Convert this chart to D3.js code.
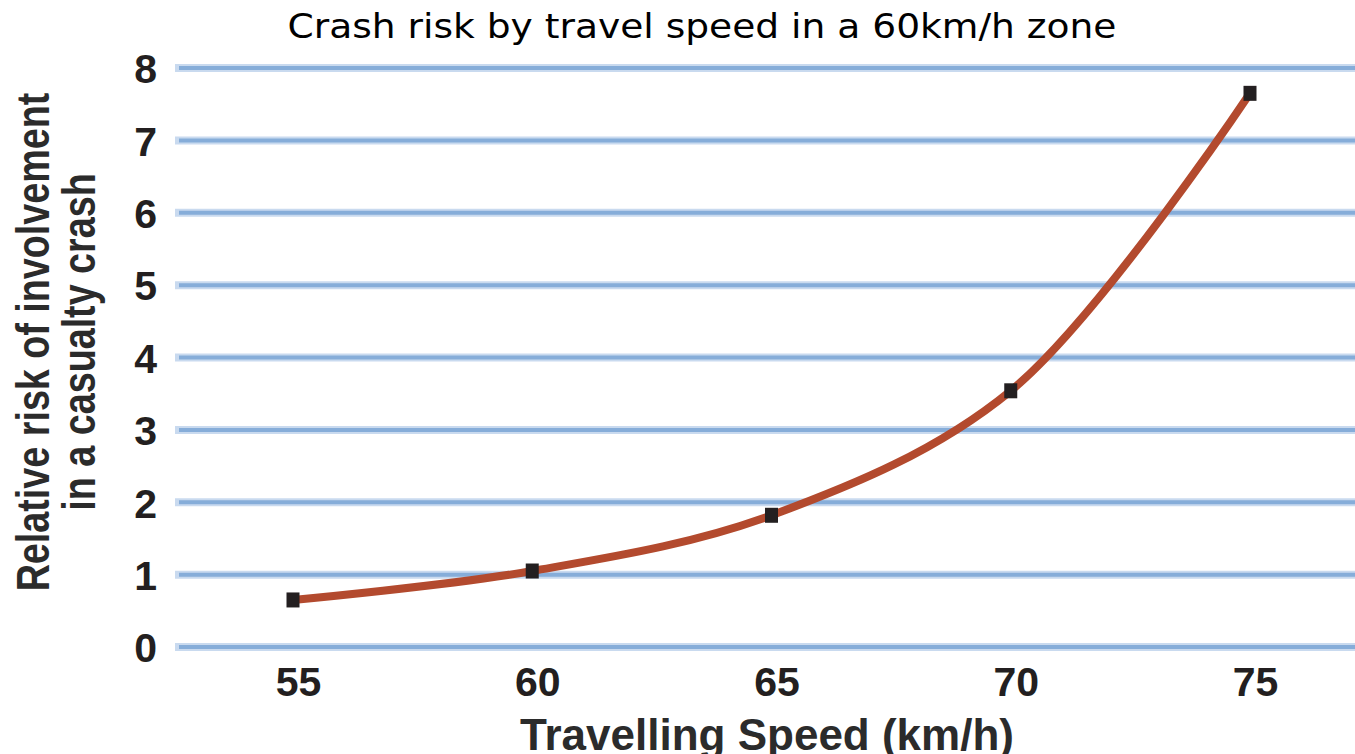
<!DOCTYPE html>
<html>
<head>
<meta charset="utf-8">
<script src="https://cdnjs.cloudflare.com/ajax/libs/d3/7.8.5/d3.min.js"></script>
<style>
  body { margin: 0; background: #fff; }
  svg { display: block; }
</style>
</head>
<body>
<div id="chart"></div>
<script>
// Data
var speeds = [55, 60, 65, 70, 75];
var risk = [0.65, 1.05, 1.82, 3.54, 7.65];
var yTicks = [0, 1, 2, 3, 4, 5, 6, 7, 8];
var titleText = "Crash risk by travel speed in a 60km/h zone";
var xLabel = "Travelling Speed (km/h)";
var yLabelLines = ["Relative risk of involvement", "in a casualty crash"];

var width = 1355;
var height = 754;
var margin = {left: 175, right: 0, top: 68, bottom: 107};

var svg = d3.select("#chart").append("svg")
  .attr("width", width)
  .attr("height", height);

// Scales
var xScale = d3.scaleLinear()
  .domain([55, 75])
  .range([293, 1250]);

var yScale = d3.scaleLinear()
  .domain([0, 8])
  .range([height - margin.bottom, margin.top]);

// Title
svg.append("text")
  .attr("x", 702)
  .attr("y", 38)
  .attr("text-anchor", "middle")
  .attr("font-family", "DejaVu Sans, Verdana, sans-serif")
  .attr("font-size", 34)
  .attr("textLength", 829)
  .attr("lengthAdjust", "spacingAndGlyphs")
  .attr("fill", "#000")
  .text(titleText);

// Gridlines (soft blue, two layers)
var grid = svg.append("g");
grid.selectAll("line.soft")
  .data(yTicks)
  .enter()
  .append("line")
  .attr("class", "soft")
  .attr("x1", margin.left)
  .attr("x2", width)
  .attr("y1", function(d) { return yScale(d); })
  .attr("y2", function(d) { return yScale(d); })
  .attr("stroke", "#c9daef")
  .attr("stroke-width", 8);
grid.selectAll("line.core")
  .data(yTicks)
  .enter()
  .append("line")
  .attr("class", "core")
  .attr("x1", margin.left + 4)
  .attr("x2", width)
  .attr("y1", function(d) { return yScale(d); })
  .attr("y2", function(d) { return yScale(d); })
  .attr("stroke", "#86add9")
  .attr("stroke-width", 4);

// Y axis labels
var yAxis = d3.axisLeft(yScale)
  .tickValues(yTicks)
  .tickSize(0)
  .tickPadding(0)
  .tickFormat(d3.format("d"));

var gy = svg.append("g")
  .attr("transform", "translate(157,0)")
  .call(yAxis);
gy.select(".domain").remove();
gy.selectAll("text")
  .attr("font-family", "Liberation Sans, Arial, sans-serif")
  .attr("font-weight", "bold")
  .attr("font-size", 41)
  .attr("fill", "#231f20")
  .attr("dy", "0.36em");

// X axis labels
var xAxis = d3.axisBottom(xScale)
  .tickValues(speeds)
  .tickSize(0)
  .tickPadding(0)
  .tickFormat(d3.format("d"));

var gx = svg.append("g")
  .attr("transform", "translate(0,667)")
  .call(xAxis);
gx.select(".domain").remove();
gx.selectAll("text")
  .attr("font-family", "Liberation Sans, Arial, sans-serif")
  .attr("font-weight", "bold")
  .attr("font-size", 41)
  .attr("fill", "#231f20")
  .attr("dx", 5)
  .attr("dy", "0.71em");

// Axis titles
svg.append("text")
  .attr("x", 767)
  .attr("y", 750)
  .attr("text-anchor", "middle")
  .attr("font-family", "Liberation Sans, Arial, sans-serif")
  .attr("font-weight", "bold")
  .attr("font-size", 44)
  .attr("fill", "#2b2b2b")
  .text(xLabel);

svg.selectAll("text.ylab")
  .data(yLabelLines)
  .enter()
  .append("text")
  .attr("class", "ylab")
  .attr("transform", function(d, i) {
    return "translate(" + (49 + i * 46) + ",342) rotate(-90) scale(0.82,1)";
  })
  .attr("text-anchor", "middle")
  .attr("font-family", "Liberation Sans, Arial, sans-serif")
  .attr("font-weight", "bold")
  .attr("font-size", 46)
  .attr("fill", "#2b2b2b")
  .text(function(d) { return d; });

// Line
var line = d3.line()
  .x(function(d, i) { return xScale(speeds[i]); })
  .y(function(d) { return yScale(d); })
  .curve(d3.curveCatmullRom);

svg.append("path")
  .datum(risk)
  .attr("d", line)
  .attr("fill", "none")
  .attr("stroke", "#b34a2e")
  .attr("stroke-width", 8);

// Markers
svg.selectAll("rect.marker")
  .data(risk)
  .enter()
  .append("rect")
  .attr("class", "marker")
  .attr("x", function(d, i) { return xScale(speeds[i]) - 6.5; })
  .attr("y", function(d) { return yScale(d) - 7.5; })
  .attr("width", 13)
  .attr("height", 15)
  .attr("fill", "#231f20");
</script>
</body>
</html>
